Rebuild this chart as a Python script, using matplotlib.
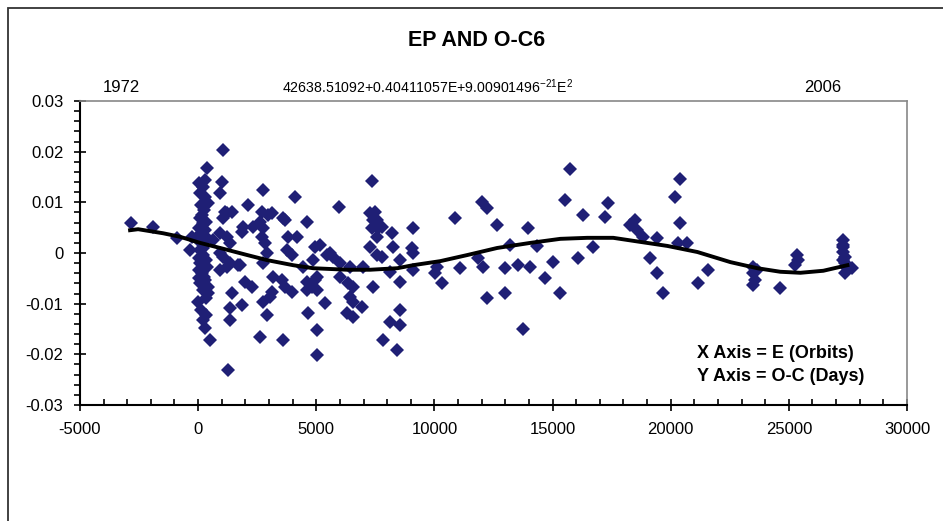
import matplotlib.pyplot as plt
from matplotlib.ticker import MultipleLocator
from matplotlib.patches import Rectangle

plt.rcParams['font.family'] = ['Liberation Sans', 'DejaVu Sans']
plt.rcParams['mathtext.fontset'] = 'custom'
plt.rcParams['mathtext.rm'] = 'Liberation Sans'

# observed O-C values (E in orbits, O-C in days)
epoch = [-2850, -1900, -900, -350, -250,
         85, 210, 300, 420, 170, 210, 300, 380, 0, 85, 210, 85, 380, 170, 300,
         420, 210, 420, 0, 210, 300, 510, 380,
         40, 130, 250, 40, 130, 250, 40, 340, 40, 250, 85, 340, 130, 340, 40,
         210, 85, 340, 300,
         1060, 1020, 930, 640, 930, 1230, 1350, 1060, 1350, 1690, 930, 1140,
         1440, 1060, 1440, 1350, 1350, 1270, 1230, 930, 1230,
         2120, 1900, 2330, 1860, 2750, 2710, 2960, 2630, 2750, 2710, 2840,
         2920, 2750, 1990, 2290, 3180, 3130, 3050, 2750, 2920, 2630, 1860,
         1780, 3130,
         3600, 4110, 3810, 4190, 3770, 4620, 3560, 3680, 3980, 3600, 4660,
         5040, 5040, 4620, 4950, 4830, 4950, 5170, 5460, 5380, 4620, 5040,
         4450, 4870, 5040, 3680, 3980,
         5590, 5720, 5970, 6010, 6440, 6990, 6010, 6350, 6560, 6440, 6560,
         6940, 6310, 6560, 7370, 7280, 7580, 7370, 7620, 7580, 7280, 7580,
         7790, 7410, 7490, 7410,
         8210, 8260, 8550, 9100, 9060, 9100, 9100, 8130, 8550, 8550, 8130,
         8550, 7830, 8430, 7790,
         10120, 10030, 10330, 10880, 11090, 11860, 12070, 12030, 12240,
         12660, 12240, 13000, 13000, 13210, 13550, 14060, 13970, 13760,
         14350, 14690, 15030, 15330,
         15540, 15750, 16090, 16300, 16720, 17230, 17360, 18290, 18500,
         18590, 18840, 19430, 19140, 19430, 19690, 20200, 20410, 20410,
         20320, 20700, 21170, 21590,
         23500, 23500, 23580, 23500, 23670, 24640, 25360, 25400, 25280,
         27310, 27310, 27310, 27390, 27390, 27480, 27690, 27390, 27310, 27310]

oc = [0.0059, 0.0051, 0.0030, 0.0006, 0.0032,
      0.0118, 0.0130, 0.0110, 0.0099, 0.0075, 0.0059, 0.0045, 0.0030, 0.0026,
      0.0006, -0.0004, -0.0020, -0.0028, -0.0039, -0.0053, -0.0067, -0.0073,
      -0.0079, -0.0097, -0.0132, -0.0148, -0.0171, 0.0167,
      0.0138, 0.0095, 0.0085, 0.0049, 0.0039, 0.0016, -0.0010, -0.0014,
      -0.0033, -0.0047, -0.0059, -0.0089, -0.0112, -0.0122, -0.0049,
      0.0010, 0.0069, 0.0061, 0.0144,
      0.0203, 0.0140, 0.0118, 0.0026, 0.0039, 0.0032, 0.0020, -0.0008,
      -0.0020, -0.0024, -0.0033, 0.0081, 0.0081, 0.0069, -0.0079, -0.0108,
      -0.0132, -0.0230, 0.0079, 0.0000, -0.0028,
      0.0095, 0.0051, 0.0051, 0.0041, 0.0124, 0.0081, 0.0075, 0.0061, 0.0049,
      0.0032, 0.0020, 0.0000, -0.0020, -0.0057, -0.0067, -0.0047, -0.0077,
      -0.0087, -0.0097, -0.0122, -0.0165, -0.0102, -0.0024, 0.0079,
      0.0069, 0.0110, 0.0032, 0.0032, 0.0006, 0.0061, -0.0053, -0.0067,
      -0.0077, -0.0171, -0.0118, -0.0152, -0.0201, -0.0057, -0.0053,
      -0.0067, 0.0012, 0.0016, -0.0004, -0.0098, -0.0073, -0.0073, -0.0028,
      -0.0014, -0.0047, 0.0065, -0.0004,
      0.0000, -0.0008, 0.0091, -0.0020, -0.0028, -0.0028, -0.0047, -0.0059,
      -0.0067, -0.0087, -0.0097, -0.0106, -0.0118, -0.0126, 0.0142, 0.0079,
      0.0065, 0.0049, 0.0049, 0.0032, 0.0012, -0.0004, -0.0008, -0.0067,
      0.0081, 0.0065,
      0.0039, 0.0012, -0.0014, 0.0049, 0.0010, 0.0000, -0.0033, -0.0037,
      -0.0057, -0.0112, -0.0136, -0.0142, -0.0171, -0.0191, 0.0051,
      -0.0028, -0.0039, -0.0059, 0.0069, -0.0030, -0.0010, -0.0028, 0.0100,
      0.0089, 0.0055, -0.0089, -0.0030, -0.0079, 0.0016, -0.0024, -0.0028,
      0.0049, -0.0150, 0.0014, -0.0049, -0.0018, -0.0079,
      0.0104, 0.0165, -0.0010, 0.0075, 0.0012, 0.0071, 0.0098, 0.0055,
      0.0065, 0.0045, 0.0032, 0.0030, -0.0010, -0.0039, -0.0079, 0.0110,
      0.0146, 0.0059, 0.0020, 0.0020, -0.0059, -0.0033,
      -0.0028, -0.0039, -0.0053, -0.0063, -0.0033, -0.0069, -0.0004,
      -0.0014, -0.0024,
      0.0026, 0.0012, 0.0002, -0.0008, -0.0020, -0.0030, -0.0030, -0.0039,
      0.0016, -0.0014]

# fitted curve
fit_epoch = [-2880, -2540, -1480, -760, 85, 930, 2080, 2920, 4020, 4870, 6310,
             7280, 8430, 9100, 10250, 11390, 12660, 14060, 15330, 16470,
             17570, 18710, 19860, 21130, 22530, 23670, 24640, 25490, 26460,
             27480]
fit_oc = [0.0045, 0.0047, 0.0039, 0.0032, 0.0020, 0.0010, -0.0004, -0.0014,
          -0.0024, -0.0030, -0.0033, -0.0033, -0.0030, -0.0024, -0.0016,
          -0.0004, 0.0010, 0.0020, 0.0028, 0.0030, 0.0030, 0.0022, 0.0014,
          0.0002, -0.0018, -0.0030, -0.0037, -0.0039, -0.0035, -0.0024]

xticks = [-5000, 0, 5000, 10000, 15000, 20000, 25000, 30000]
yticks = [-0.03, -0.02, -0.01, 0, 0.01, 0.02, 0.03]
ylabels = ['-0.03', '-0.02', '-0.01', '0', '0.01', '0.02', '0.03']

fig = plt.figure(figsize=(9.43, 5.21), dpi=100)
ax = fig.add_axes([0.0848, 0.2226, 0.8770, 0.5835])

ax.plot(epoch, oc, 'D', color='#1F1F75', ms=7.5, mew=0, zorder=3)
ax.plot(fit_epoch, fit_oc, color='black', lw=2.8, zorder=4)

ax.set_xlim(-5000, 30000)
ax.set_ylim(-0.03, 0.03)
ax.set_xticks(xticks)
ax.set_xticklabels([str(t) for t in xticks])
ax.set_yticks(yticks)
ax.set_yticklabels(ylabels)
ax.xaxis.set_minor_locator(MultipleLocator(1000))
ax.yaxis.set_minor_locator(MultipleLocator(0.002))
ax.tick_params(which='major', direction='inout', length=8, width=1.2,
               labelsize=12, pad=8)
ax.tick_params(axis='y', which='minor', direction='out', length=4, width=1.2)
ax.tick_params(axis='x', which='minor', direction='in', length=4, width=1.2)
for s in ['top', 'right']:
    ax.spines[s].set_color('#888888')
    ax.spines[s].set_linewidth(1.2)
for s in ['left', 'bottom']:
    ax.spines[s].set_linewidth(1.5)

fig.text(0.505, 0.923, 'EP AND O-C6', ha='center', va='center',
         fontsize=15.5, fontweight='bold')
fig.text(0.129, 0.833, '1972', ha='center', va='center', fontsize=12)
fig.text(0.872, 0.833, '2006', ha='center', va='center', fontsize=12)
fig.text(0.453, 0.833, r'42638.51092+0.40411057E+9.00901496$^{\mathrm{-21}}$E$^{\mathrm{2}}$',
         ha='center', va='center', fontsize=10.2)

ax.text(0.746, 0.132, 'X Axis = E (Orbits)\nY Axis = O-C (Days)',
        transform=ax.transAxes, ha='left', va='center', fontsize=13,
        fontweight='bold', linespacing=1.45)

# outer chart border (left and top visible)
fig.patches.append(Rectangle((8 / 943, -0.1), 1.1, (513 / 521) + 0.1,
                             transform=fig.transFigure, fill=False,
                             edgecolor='#333333', lw=1.3))

fig.savefig('out.png', dpi=100)
